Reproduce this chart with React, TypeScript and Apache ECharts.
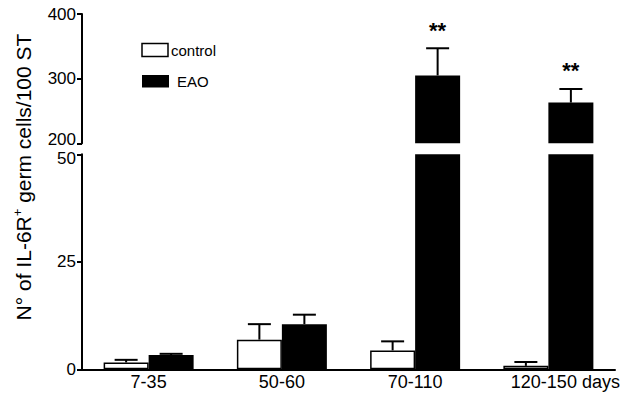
import React, { useEffect, useRef } from "react";
import * as echarts from "echarts";

const categories = ["7-35", "50-60", "70-110", "120-150 days"];
const controlValues = [1.6, 6.9, 4.4, 0.8];
const controlErrors = [0.6, 3.6, 2.1, 0.9];
const eaoValues = [3.3, 10.5, 305, 263];
const eaoErrors = [0.3, 2.2, 42, 21];
const significance = ["", "", "**", "**"];
const upperRange = [200, 400];
const lowerRange = [0, 50];
const upperInterval = 100;
const lowerInterval = 25;
const seriesNames = ["control", "EAO"];

const FONT = "'Liberation Sans', Arial, Helvetica, sans-serif";
const BAR_W = 45;

function errorSeries(
  values: number[],
  errors: number[],
  side: number,
  gridIdx: number,
  range: number[],
  marks: string[] | null
) {
  return {
    type: "custom",
    xAxisIndex: gridIdx,
    yAxisIndex: gridIdx,
    z: 5,
    data: values.map((v, i) => [i, v, errors[i]]),
    renderItem: (params: any, api: any) => {
      const idx = api.value(0);
      const v = api.value(1);
      const e = api.value(2);
      const top = v + e;
      if (v < range[0] || top > range[1]) return null;
      const base = api.coord([idx, v]);
      const tip = api.coord([idx, top]);
      const x = base[0] + side * (BAR_W / 2);
      const children: any[] = [
        {
          type: "line",
          shape: { x1: x, y1: base[1], x2: x, y2: tip[1] },
          style: { stroke: "#000", lineWidth: 2 },
        },
        {
          type: "line",
          shape: { x1: x - 11.5, y1: tip[1], x2: x + 11.5, y2: tip[1] },
          style: { stroke: "#000", lineWidth: 2 },
        },
      ];
      if (marks && marks[idx]) {
        children.push({
          type: "text",
          style: {
            text: marks[idx],
            x: x,
            y: tip[1] - 7,
            align: "center",
            verticalAlign: "bottom",
            font: `bold 22px ${FONT}`,
            fill: "#000",
          },
        });
      }
      return { type: "group", children };
    },
  };
}

function barSeries(name: string, values: number[], gridIdx: number, filled: boolean) {
  return {
    type: "bar",
    name,
    xAxisIndex: gridIdx,
    yAxisIndex: gridIdx,
    barWidth: BAR_W,
    barGap: "0%",
    data: values,
    itemStyle: filled
      ? { color: "#000" }
      : { color: "#fff", borderColor: "#000", borderWidth: 1.5 },
  };
}

export default function App() {
  const ref = useRef<HTMLDivElement>(null);
  useEffect(() => {
    if (!ref.current) return;
    const chart = echarts.init(ref.current, undefined, { renderer: "svg" });
    const labelRich = {
      n: { fontSize: 17, fontFamily: FONT, color: "#000", lineHeight: 15 },
      up: { fontSize: 17, fontFamily: FONT, color: "#000", lineHeight: 15, padding: [0, 0, 7, 0] },
      dn: { fontSize: 17, fontFamily: FONT, color: "#000", lineHeight: 15, padding: [8, 0, 0, 0] },
    };
    const yAxisCommon = {
      type: "value",
      axisLine: { show: true, onZero: false, lineStyle: { color: "#000", width: 2 } },
      axisTick: { show: true, length: 5, lineStyle: { color: "#000", width: 2 } },
      splitLine: { show: false },
    };
    chart.setOption({
      animation: false,
      grid: [
        { left: 82, width: 533, top: 14, height: 129.3 },
        { left: 82, width: 533, top: 154.3, height: 215 },
      ],
      xAxis: [
        { type: "category", gridIndex: 0, data: categories, show: false },
        {
          type: "category",
          gridIndex: 1,
          data: categories,
          axisLine: { lineStyle: { color: "#000", width: 2 } },
          axisTick: { show: false },
          axisLabel: {
            color: "#000",
            fontSize: 18,
            fontFamily: FONT,
            margin: 4,
            interval: 0,
            formatter: (val: string, i: number) =>
              i === categories.length - 1 ? `{last|${val}}` : val,
            rich: {
              last: { fontSize: 18, fontFamily: FONT, color: "#000", padding: [0, 0, 0, 34] },
            },
          },
        },
      ],
      yAxis: [
        {
          ...yAxisCommon,
          gridIndex: 0,
          min: upperRange[0],
          max: upperRange[1],
          interval: upperInterval,
          axisLabel: {
            margin: 6,
            formatter: (v: number) => (v === upperRange[0] ? `{up|${v}}` : `{n|${v}}`),
            rich: labelRich,
          },
        },
        {
          ...yAxisCommon,
          gridIndex: 1,
          min: lowerRange[0],
          max: lowerRange[1],
          interval: lowerInterval,
          axisLabel: {
            margin: 6,
            formatter: (v: number) => (v === lowerRange[1] ? `{dn|${v}}` : `{n|${v}}`),
            rich: labelRich,
          },
        },
      ],
      series: [
        barSeries(seriesNames[0], controlValues, 0, false),
        barSeries(seriesNames[1], eaoValues, 0, true),
        barSeries(seriesNames[0], controlValues, 1, false),
        barSeries(seriesNames[1], eaoValues, 1, true),
        errorSeries(controlValues, controlErrors, -1, 0, upperRange, null),
        errorSeries(eaoValues, eaoErrors, 1, 0, upperRange, significance),
        errorSeries(controlValues, controlErrors, -1, 1, lowerRange, null),
        errorSeries(eaoValues, eaoErrors, 1, 1, lowerRange, significance),
      ],
      graphic: [
        {
          type: "text",
          x: 23,
          y: 177,
          rotation: Math.PI / 2,
          style: {
            text: "{a|N° of IL-6R}{s|+}{a| germ cells/100 ST}",
            align: "center",
            verticalAlign: "middle",
            rich: {
              a: { fontSize: 21, fontFamily: FONT, fill: "#000", lineHeight: 24 },
              s: { fontSize: 13, fontFamily: FONT, fill: "#000", lineHeight: 14, verticalAlign: "top" },
            },
          },
        },
        {
          type: "rect",
          shape: { x: 142, y: 43.5, width: 26, height: 13 },
          style: { fill: "#fff", stroke: "#000", lineWidth: 1.5 },
        },
        {
          type: "text",
          style: {
            text: seriesNames[0],
            x: 171,
            y: 50,
            verticalAlign: "middle",
            font: `15px ${FONT}`,
            fill: "#000",
          },
        },
        {
          type: "rect",
          shape: { x: 142, y: 75, width: 27, height: 12.5 },
          style: { fill: "#000" },
        },
        {
          type: "text",
          style: {
            text: seriesNames[1],
            x: 177,
            y: 81,
            verticalAlign: "middle",
            font: `15px ${FONT}`,
            fill: "#000",
          },
        },
      ],
    });
    return () => chart.dispose();
  }, []);
  return (
    <div
      ref={ref}
      style={{ position: "fixed", left: 0, top: 0, width: 628, height: 394, background: "#fff" }}
    />
  );
}
